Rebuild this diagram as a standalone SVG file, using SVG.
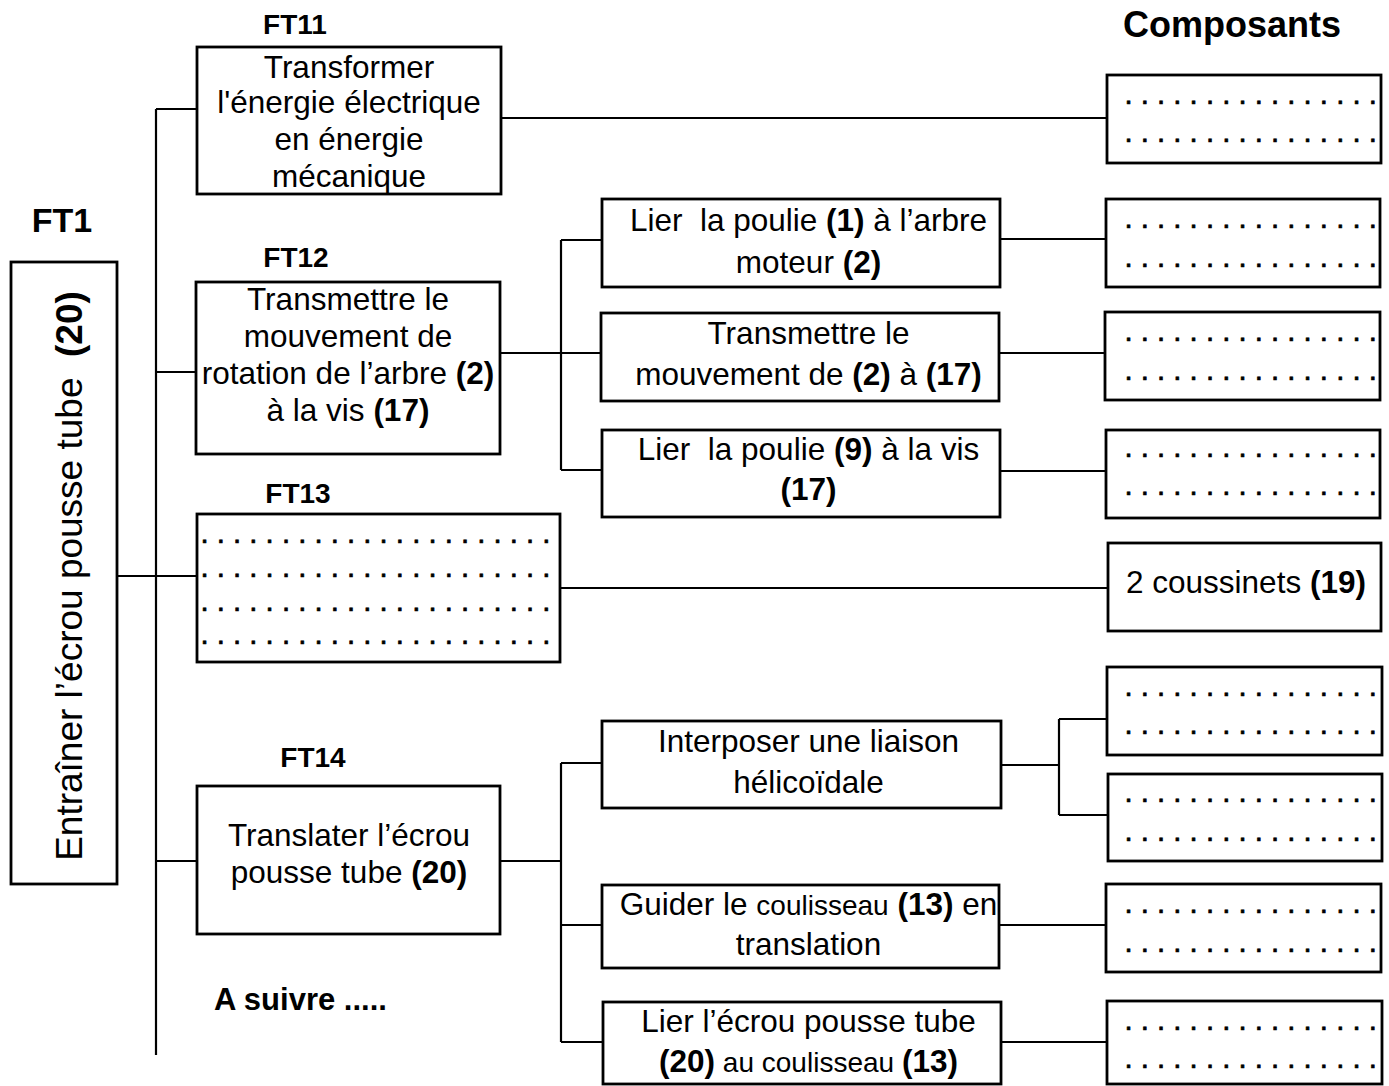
<svg xmlns="http://www.w3.org/2000/svg" width="1389" height="1086" viewBox="0 0 1389 1086">
<style>
.box{fill:#fff;stroke:#000;stroke-width:2.8}
.conn{fill:none;stroke:#000;stroke-width:2.2}
text{font-family:"Liberation Sans",Arial,sans-serif;fill:#000}
.t{font-size:31.5px;text-anchor:middle}
.b{font-weight:bold}
.lbl{font-weight:bold;font-size:28px;text-anchor:middle}
.dots{font-size:29.3px;stroke:#000;stroke-width:0.7}
.sm{font-size:28px}
</style>
<rect width="1389" height="1086" fill="#fff"/>
<g id="connectors">
<path class="conn" d="M156 109V1055M156 109H197M156 372H197M117 576H197M156 861H197"/>
<path class="conn" d="M501 118H1107"/>
<path class="conn" d="M500 353H561M561 240V470M561 240H602M561 353H601M561 470H602"/>
<path class="conn" d="M1000 239H1106M999 353H1105M1000 471H1106"/>
<path class="conn" d="M560 588H1108"/>
<path class="conn" d="M500 861H561M561 763V1042M561 763H602M561 925H602M561 1042H603"/>
<path class="conn" d="M1001 765H1059M1059 719V815M1059 719H1107M1059 815H1108"/>
<path class="conn" d="M999 925H1106M1001 1042H1107"/>
</g>
<g id="labels">
<text class="lbl" x="295" y="34">FT11</text>
<text class="lbl" x="296" y="267">FT12</text>
<text class="lbl" x="298" y="503">FT13</text>
<text class="lbl" x="313" y="767">FT14</text>
<text class="b" x="62" y="232" style="font-size:34px;text-anchor:middle">FT1</text>
<text class="b" x="1232" y="37" style="font-size:36px;text-anchor:middle">Composants</text>
<text class="b" x="214" y="1010" style="font-size:31px">A suivre .....</text>
</g>
<g id="ft1">
<rect class="box" x="11" y="262" width="106" height="622"/>
<text transform="translate(82,576) rotate(-90)" xml:space="preserve" style="font-size:37px;text-anchor:middle">Entraîner l’écrou pousse tube  <tspan class="b">(20)</tspan></text>
</g>
<g id="ft11">
<rect class="box" x="197" y="47" width="304" height="147"/>
<text class="t" x="349" y="78">Transformer</text>
<text class="t" x="349" y="113">l'énergie électrique</text>
<text class="t" x="349" y="150">en énergie</text>
<text class="t" x="349" y="187">mécanique</text>
</g>
<g id="ft12">
<rect class="box" x="196" y="282" width="304" height="172"/>
<text class="t" x="348" y="310">Transmettre le</text>
<text class="t" x="348" y="347">mouvement de</text>
<text class="t" x="348" y="384">rotation de l’arbre <tspan class="b">(2)</tspan></text>
<text class="t" x="348" y="421">à la vis <tspan class="b">(17)</tspan></text>
</g>
<g id="ft13">
<rect class="box" x="197" y="514" width="363" height="148"/>
<text class="dots" x="200.5" y="542.5">. . . . . . . . . . . . . . . . . . . . . .</text>
<text class="dots" x="200.5" y="576.5">. . . . . . . . . . . . . . . . . . . . . .</text>
<text class="dots" x="200.5" y="610.5">. . . . . . . . . . . . . . . . . . . . . .</text>
<text class="dots" x="200.5" y="643.5">. . . . . . . . . . . . . . . . . . . . . .</text>
</g>
<g id="ft14">
<rect class="box" x="197" y="786" width="303" height="148"/>
<text class="t" x="349" y="846">Translater l’écrou</text>
<text class="t" x="349" y="883">pousse tube <tspan class="b">(20)</tspan></text>
</g>
<g id="ft121">
<rect class="box" x="602" y="199" width="398" height="88"/>
<text class="t" x="808.5" y="231" xml:space="preserve">Lier  la poulie <tspan class="b">(1)</tspan> à l’arbre</text>
<text class="t" x="808.5" y="273">moteur <tspan class="b">(2)</tspan></text>
</g>
<g id="ft122">
<rect class="box" x="601" y="313" width="398" height="88"/>
<text class="t" x="808.5" y="344">Transmettre le</text>
<text class="t" x="808.5" y="385">mouvement de <tspan class="b">(2)</tspan> à <tspan class="b">(17)</tspan></text>
</g>
<g id="ft123">
<rect class="box" x="602" y="430" width="398" height="87"/>
<text class="t" x="808.5" y="460" xml:space="preserve">Lier  la poulie <tspan class="b">(9)</tspan> à la vis</text>
<text class="t b" x="808.5" y="500">(17)</text>
</g>
<g id="ft141">
<rect class="box" x="602" y="721" width="399" height="87"/>
<text class="t" x="808.5" y="752">Interposer une liaison</text>
<text class="t" x="808.5" y="793">hélicoïdale</text>
</g>
<g id="ft142">
<rect class="box" x="602" y="885" width="397" height="83"/>
<text class="t" x="808.5" y="915">Guider le <tspan class="sm">coulisseau</tspan> <tspan class="b">(13)</tspan> en</text>
<text class="t" x="808.5" y="955">translation</text>
</g>
<g id="ft143">
<rect class="box" x="603" y="1002" width="398" height="82"/>
<text class="t" x="808.5" y="1032">Lier l’écrou pousse tube</text>
<text class="t" x="808.5" y="1072"><tspan class="b">(20)</tspan><tspan class="sm"> au coulisseau </tspan><tspan class="b">(13)</tspan></text>
</g>
<g id="comp1">
<rect class="box" x="1107" y="75" width="274" height="88"/>
<text class="dots" x="1124.5" y="103.5">. . . . . . . . . . . . . . . .</text>
<text class="dots" x="1124.5" y="141.5">. . . . . . . . . . . . . . . .</text>
</g>
<g id="comp2">
<rect class="box" x="1106" y="199" width="274" height="88"/>
<text class="dots" x="1124.5" y="227.5">. . . . . . . . . . . . . . . .</text>
<text class="dots" x="1124.5" y="266.5">. . . . . . . . . . . . . . . .</text>
</g>
<g id="comp3">
<rect class="box" x="1105" y="312" width="275" height="88"/>
<text class="dots" x="1124.5" y="340.5">. . . . . . . . . . . . . . . .</text>
<text class="dots" x="1124.5" y="379.5">. . . . . . . . . . . . . . . .</text>
</g>
<g id="comp4">
<rect class="box" x="1106" y="430" width="274" height="88"/>
<text class="dots" x="1124.5" y="456.5">. . . . . . . . . . . . . . . .</text>
<text class="dots" x="1124.5" y="494.5">. . . . . . . . . . . . . . . .</text>
</g>
<g id="comp5">
<rect class="box" x="1108" y="543" width="273" height="88"/>
<text class="t" x="1246" y="593">2 coussinets <tspan class="b">(19)</tspan></text>
</g>
<g id="comp6">
<rect class="box" x="1107" y="667" width="275" height="88"/>
<text class="dots" x="1124.5" y="695.5">. . . . . . . . . . . . . . . .</text>
<text class="dots" x="1124.5" y="733.5">. . . . . . . . . . . . . . . .</text>
</g>
<g id="comp7">
<rect class="box" x="1108" y="774" width="274" height="87"/>
<text class="dots" x="1124.5" y="801.5">. . . . . . . . . . . . . . . .</text>
<text class="dots" x="1124.5" y="840.5">. . . . . . . . . . . . . . . .</text>
</g>
<g id="comp8">
<rect class="box" x="1106" y="884" width="275" height="88"/>
<text class="dots" x="1124.5" y="912.5">. . . . . . . . . . . . . . . .</text>
<text class="dots" x="1124.5" y="951.5">. . . . . . . . . . . . . . . .</text>
</g>
<g id="comp9">
<rect class="box" x="1107" y="1001" width="275" height="83"/>
<text class="dots" x="1124.5" y="1029.5">. . . . . . . . . . . . . . . .</text>
<text class="dots" x="1124.5" y="1067.5">. . . . . . . . . . . . . . . .</text>
</g>
</svg>
